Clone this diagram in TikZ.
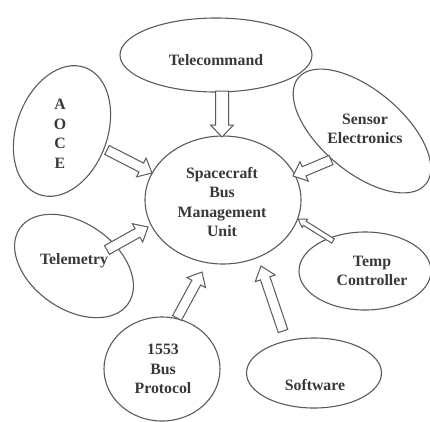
\documentclass[tikz,border=0pt]{standalone}
\usepackage{fontspec}
\setmainfont{Liberation Serif}
\usetikzlibrary{shapes.geometric,calc}
\definecolor{edge}{HTML}{5A5A5A}
\definecolor{ink}{HTML}{383838}
\newcommand\hollowarrow[5]{% tail, tip, shaft half width, head half width, head length
  \coordinate (hb) at ($(#2)!#5!(#1)$);
  \draw[blockarrow] ($(#1)!#3!90:(#2)$) -- ($(hb)!#3!90:(#2)$) -- ($(hb)!#4!90:(#2)$) -- (#2)
    -- ($(hb)!#4!-90:(#2)$) -- ($(hb)!#3!-90:(#2)$) -- ($(#1)!#3!-90:(#2)$) -- cycle;}
\begin{document}
\begin{tikzpicture}[x=1pt,y=-1pt,
  ell/.style={ellipse, draw=edge, line width=1.1pt, inner sep=0pt},
  lbl/.style={align=center, text=ink, inner sep=0pt, font=\fontsize{15.8}{19.5}\selectfont\bfseries},
  blockarrow/.style={draw=edge, line width=1pt, fill=white, line join=miter}]
\useasboundingbox (0,0) rectangle (430,421);
% ellipses
\node[ell, minimum width=156pt, minimum height=128pt] (sbmu) at (223,200) {};
\node[ell, minimum width=192pt, minimum height=74pt] (tc) at (216,55) {};
\node[ell, minimum width=135pt, minimum height=91pt, rotate=70] (aoce) at (62,131) {};
\node[ell, minimum width=166pt, minimum height=82pt, rotate=-40] (sens) at (362,131) {};
\node[ell, minimum width=132pt, minimum height=86pt, rotate=-35] (tm) at (74,266) {};
\node[ell, minimum width=116pt, minimum height=104pt] (bus) at (162,369) {};
\node[ell, minimum width=132pt, minimum height=78pt] (temp) at (365,271) {};
\node[ell, minimum width=135pt, minimum height=70pt] (sw) at (314,373) {};
% labels
\node[lbl] (sbmut) at (222,202) {Spacecraft\\Bus\\Management\\Unit};
\node[lbl] (tct) at (216,60) {Telecommand};
\node[lbl] (aocet) at (60,134) {A\\O\\C\\E};
\node[lbl] (senst) at (365,129) {Sensor\\Electronics};
\node[lbl] (tmt) at (74,261) {Telemetry};
\node[lbl] (bust) at (163,369) {1553\\Bus\\Protocol};
\node[lbl] (tempt) at (372,271) {Temp\\Controller};
\node[lbl] (swt) at (315,385) {Software};
% arrow end points
\coordinate (tc1) at (222,91);   \coordinate (tc2) at (222,137);
\coordinate (ao1) at (107,150);  \coordinate (ao2) at (152,173);
\coordinate (se1) at (331,160);  \coordinate (se2) at (293,176);
\coordinate (tm1) at (107,250);  \coordinate (tm2) at (148,227);
\coordinate (bu1) at (177,318);  \coordinate (bu2) at (202,272);
\coordinate (te1) at (333,241);  \coordinate (te2) at (298,219);
\coordinate (sw1) at (283,331);  \coordinate (sw2) at (261,266);
% hollow arrows
\hollowarrow{tc1}{tc2}{6.5pt}{11.5pt}{12pt}
\hollowarrow{ao1}{ao2}{5pt}{10.5pt}{12pt}
\hollowarrow{se1}{se2}{5pt}{10.5pt}{12pt}
\hollowarrow{tm1}{tm2}{5pt}{10.5pt}{12pt}
\hollowarrow{bu1}{bu2}{5pt}{10.5pt}{12pt}
\hollowarrow{te1}{te2}{2.5pt}{5pt}{8pt}
\hollowarrow{sw1}{sw2}{5pt}{10.5pt}{13pt}
\end{tikzpicture}
\end{document}
